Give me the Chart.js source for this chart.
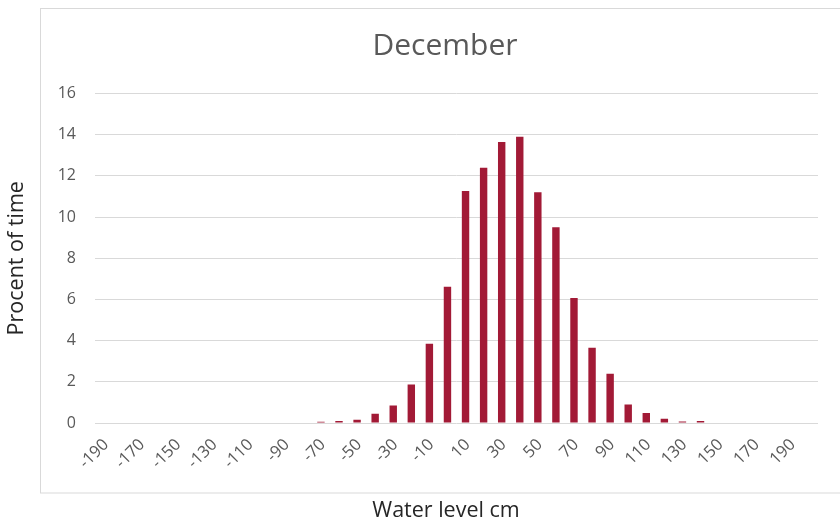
<!DOCTYPE html>
<html>
<head>
<meta charset="utf-8">
<title>December</title>
<script src="https://cdn.jsdelivr.net/npm/chart.js@4"></script>
<style>
  html, body { margin: 0; padding: 0; background: #ffffff; }
  #wrap { width: 840px; height: 524px; }
</style>
</head>
<body>
<div id="wrap"><canvas id="chart" width="840" height="524"></canvas></div>
<script>
// Water level classes (cm)
const waterLevels = [
  -190, -180, -170, -160, -150, -140, -130, -120, -110, -100,
  -90, -80, -70, -60, -50, -40, -30, -20, -10, 0,
  10, 20, 30, 40, 50, 60, 70, 80, 90, 100,
  110, 120, 130, 140, 150, 160, 170, 180, 190, 200
];

// Share of time (%) spent in each water level class
const percentOfTime = [
  0, 0, 0, 0, 0, 0, 0, 0, 0, 0,
  0, 0, 0.06, 0.1, 0.16, 0.45, 0.85, 1.87, 3.85, 6.62,
  11.26, 12.4, 13.64, 13.9, 11.2, 9.5, 6.07, 3.66, 2.39, 0.9,
  0.48, 0.21, 0.07, 0.1, 0, 0, 0, 0, 0, 0
];

// Value axis ticks
const percentTicks = [0, 2, 4, 6, 8, 10, 12, 14, 16];

const chartTitle = 'December';
const xAxisTitle = 'Water level cm';
const yAxisTitle = 'Procent of time';

const labelColor = '#595959';
const titleTextColor = '#262626';
const gridColor = '#D9D9D9';
const barColor = '#A21A36';
const fontFamily = '"Open Sans", "Noto Sans", sans-serif';

// Light frame, white background, and the texts centred on the frame
const framePlugin = {
  id: 'frame',
  beforeDraw(chart) {
    const ctx = chart.ctx;
    ctx.save();
    ctx.fillStyle = '#ffffff';
    ctx.fillRect(0, 0, chart.width, chart.height);
    ctx.strokeStyle = gridColor;
    ctx.lineWidth = 1;
    ctx.strokeRect(40.5, 8.5, 830, 484.5);
    ctx.restore();
  },
  afterDraw(chart) {
    const ctx = chart.ctx;
    ctx.save();
    ctx.textAlign = 'center';
    ctx.textBaseline = 'middle';
    ctx.fillStyle = labelColor;
    ctx.font = '30px ' + fontFamily;
    ctx.fillText(chartTitle, 445, 46);
    ctx.fillStyle = titleTextColor;
    ctx.font = '21.5px ' + fontFamily;
    ctx.fillText(xAxisTitle, 446, 511);
    ctx.restore();
  }
};

new Chart(document.getElementById('chart'), {
  type: 'bar',
  data: {
    labels: waterLevels.map(String),
    datasets: [{
      label: yAxisTitle,
      data: percentOfTime,
      backgroundColor: barColor,
      borderWidth: 0,
      barPercentage: 0.41,
      categoryPercentage: 1.0
    }]
  },
  options: {
    responsive: false,
    animation: false,
    devicePixelRatio: 1,
    layout: { padding: { left: 0, right: 22, top: 93.5, bottom: 0 } },
    plugins: {
      legend: { display: false },
      tooltip: { enabled: false },
      title: { display: false }
    },
    scales: {
      x: {
        offset: true,
        grid: { display: false, drawTicks: false },
        border: { display: false },
        ticks: {
          autoSkip: false,
          maxRotation: 45,
          minRotation: 45,
          padding: 12,
          labelOffset: 2,
          color: labelColor,
          font: { family: fontFamily, size: 16.5 },
          callback: function (value, index) {
            return index % 2 === 0 ? this.getLabelForValue(value) : '';
          }
        },
        afterFit(scale) { scale.height = 101; }
      },
      y: {
        min: 0,
        max: 16,
        afterBuildTicks(scale) {
          scale.ticks = percentTicks.map(v => ({ value: v }));
        },
        grid: { color: gridColor, lineWidth: 1, drawTicks: false },
        border: { display: false },
        ticks: {
          padding: 19,
          color: labelColor,
          font: { family: fontFamily, size: 16 }
        },
        title: {
          display: true,
          text: yAxisTitle,
          color: titleTextColor,
          font: { family: fontFamily, size: 21.5 },
          padding: { top: 4, bottom: 0 }
        },
        afterFit(scale) { scale.width = 95; }
      }
    }
  },
  plugins: [framePlugin]
});
</script>
</body>
</html>
